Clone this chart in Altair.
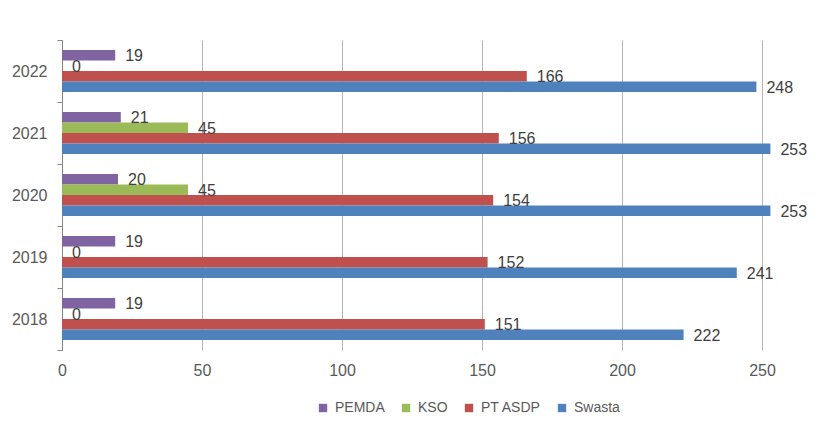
import altair as alt
import pandas as pd

years = ["2018", "2019", "2020", "2021", "2022"]
series = ["PEMDA", "KSO", "PT ASDP", "Swasta"]
pemda = [19, 19, 20, 21, 19]
kso = [0, 0, 45, 45, 0]
asdp = [151, 152, 154, 156, 166]
swasta = [222, 241, 253, 253, 248]
colors = ["#8064A2", "#9BBB59", "#C0504D", "#4F81BD"]
x_ticks = [0, 50, 100, 150, 200, 250]

rows = []
for name, vals in zip(series, [pemda, kso, asdp, swasta]):
    for y, v in zip(years, vals):
        rows.append({"year": y, "series": name, "value": v})
df = pd.DataFrame(rows)

FONT = "Liberation Sans"

base = alt.Chart(df).encode(
    y=alt.Y(
        "year:N",
        sort=years[::-1],
        scale=alt.Scale(paddingInner=0, paddingOuter=0),
        axis=alt.Axis(
            title=None,
            tickBand="extent",
            tickSize=5,
            tickColor="#868686",
            domainColor="#868686",
            labelFontSize=16,
            labelColor="#595959",
            labelFont=FONT,
            labelPadding=10,
            grid=False,
        ),
    ),
    yOffset=alt.YOffset(
        "series:N", sort=series, scale=alt.Scale(paddingInner=0, paddingOuter=0.95)
    ),
    x=alt.X(
        "value:Q",
        scale=alt.Scale(domain=[0, 250], nice=False),
        axis=alt.Axis(
            title=None,
            values=x_ticks,
            grid=True,
            gridColor="#b4b4b4",
            gridWidth=1,
            domain=False,
            ticks=False,
            labelFlush=False,
            labelFontSize=16,
            labelColor="#595959",
            labelFont=FONT,
            labelPadding=12,
        ),
    ),
)

bars = base.mark_bar().encode(
    color=alt.Color(
        "series:N",
        sort=series,
        scale=alt.Scale(domain=series, range=colors),
        legend=alt.Legend(
            title=None,
            orient="none",
            direction="horizontal",
            legendX=254,
            legendY=361,
            symbolType="square",
            symbolSize=70,
            symbolStrokeWidth=0,
            labelFontSize=14,
            labelFont=FONT,
            labelColor="#595959",
            labelOffset=5,
            columnPadding=14,
        ),
    )
)

labels = base.mark_text(
    align="left", baseline="middle", dx=10, dy=1, fontSize=16, font=FONT, color="#404040"
).encode(text="value:Q")

chart = (
    alt.layer(bars, labels)
    .properties(
        width=700,
        height=310,
        autosize="none",
        padding={"left": 54, "top": 32, "right": 47, "bottom": 70},
    )
    .configure_view(stroke=None)
)

chart.save("out.html", embed_options={"renderer": "svg", "actions": False})
